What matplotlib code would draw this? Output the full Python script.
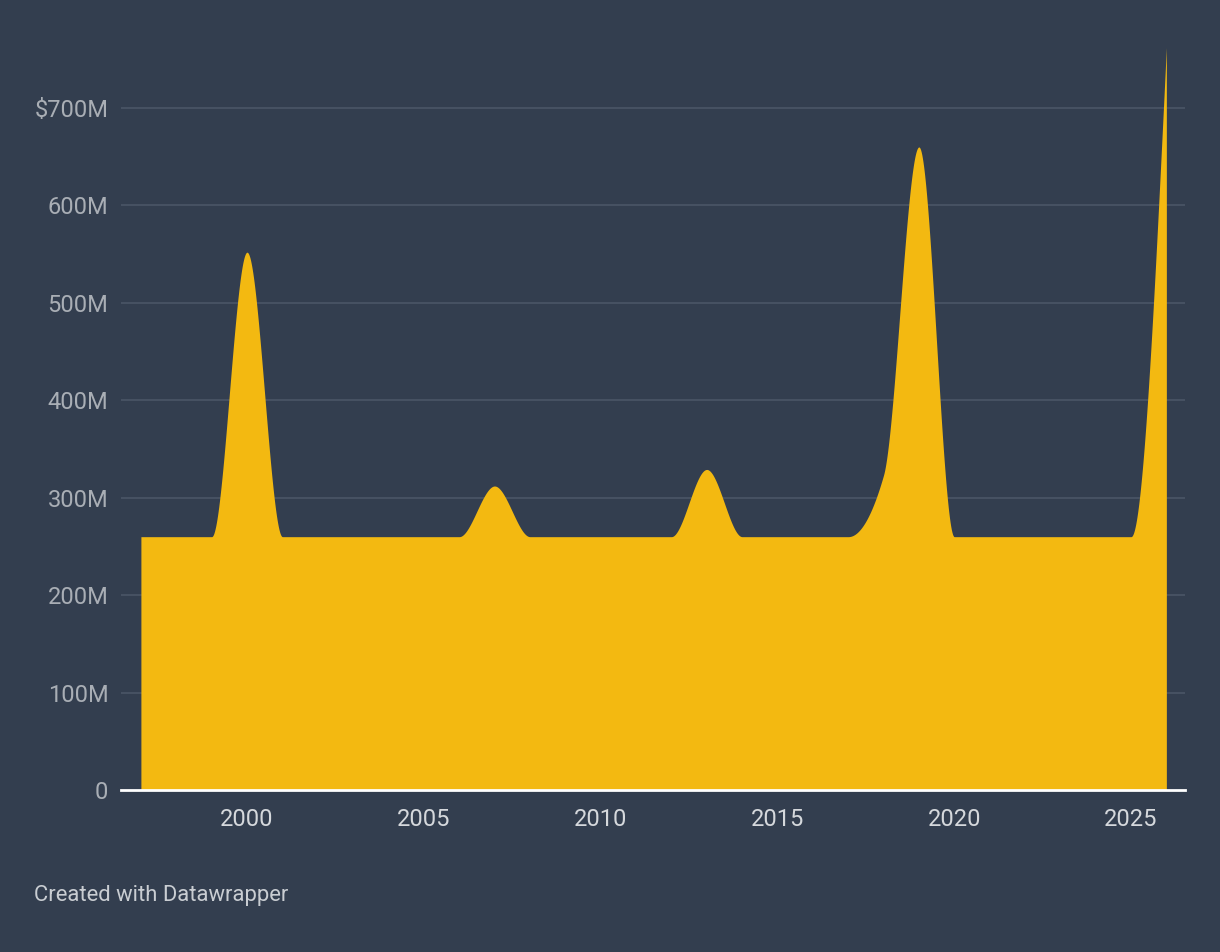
import numpy as np
import matplotlib
matplotlib.use("Agg")
import matplotlib.pyplot as plt

years = list(range(1997, 2027))
values_m = [260, 260, 260, 552, 260, 260, 260, 260, 260, 260, 312, 260, 260, 260,
            260, 260, 329, 260, 260, 260, 260, 323, 660, 260, 260, 260, 260, 260, 260, 762]
y_ticks = [0, 100, 200, 300, 400, 500, 600, 700]
y_tick_labels = ["0", "100M", "200M", "300M", "400M", "500M", "600M", "$700M"]
x_ticks = [2000, 2005, 2010, 2015, 2020, 2025]

BG = "#333e4f"
FILL = "#f3b911"
GRID = "#4a5566"

def monotone_x(x, y, n=60):
    x = np.asarray(x, float); y = np.asarray(y, float)
    h = np.diff(x); s = np.diff(y) / h
    m = np.zeros_like(y)
    for i in range(1, len(x) - 1):
        s0, s1 = s[i - 1], s[i]
        p = (s0 * h[i] + s1 * h[i - 1]) / (h[i - 1] + h[i])
        m[i] = (np.sign(s0) + np.sign(s1)) * min(abs(s0), abs(s1), 0.5 * abs(p))
    m[0] = (3 * s[0] - m[1]) / 2
    m[-1] = (3 * s[-1] - m[-2]) / 2
    xs, ys = [], []
    for i in range(len(x) - 1):
        t = np.linspace(0, 1, n, endpoint=(i == len(x) - 2))
        h00 = 2 * t**3 - 3 * t**2 + 1
        h10 = t**3 - 2 * t**2 + t
        h01 = -2 * t**3 + 3 * t**2
        h11 = t**3 - t**2
        xs.append(x[i] + t * h[i])
        ys.append(h00 * y[i] + h10 * h[i] * m[i] + h01 * y[i + 1] + h11 * h[i] * m[i + 1])
    return np.concatenate(xs), np.concatenate(ys)

xs, ys = monotone_x(years, values_m)

fig = plt.figure(figsize=(12.2, 9.52), dpi=100, facecolor=BG)
ax = fig.add_axes([121 / 1220, (952 - 790) / 952, (1185 - 121) / 1220, (790 - 30) / 952])
ax.set_facecolor(BG)
ax.fill_between(xs, 0, ys, color=FILL, linewidth=0, zorder=2)

ax.set_xlim(1996.437, 2026.527)
ax.set_ylim(0, 780)

for v in y_ticks[1:]:
    ax.axhline(v, color=GRID, linewidth=1.2, zorder=1)
ax.axhline(0, color="white", linewidth=2, zorder=5, clip_on=False)

for sp in ax.spines.values():
    sp.set_visible(False)

ax.set_yticks(y_ticks)
ax.set_yticklabels(y_tick_labels)
ax.set_xticks(x_ticks)
ax.set_xticklabels([str(t) for t in x_ticks])
ax.tick_params(axis="y", length=0, pad=9, labelsize=17, labelcolor="#a9aeb5")
ax.tick_params(axis="x", length=0, pad=13, labelsize=17, labelcolor="#d5d8dc")
for lab in ax.get_xticklabels() + ax.get_yticklabels():
    lab.set_fontfamily("Roboto")

fig.text(34 / 1220, 1 - 896 / 952, "Created with Datawrapper", fontsize=15.8,
         color="#c9cdd2", family="Roboto", va="center", ha="left")

fig.savefig("out.png", dpi=100, facecolor=BG)
